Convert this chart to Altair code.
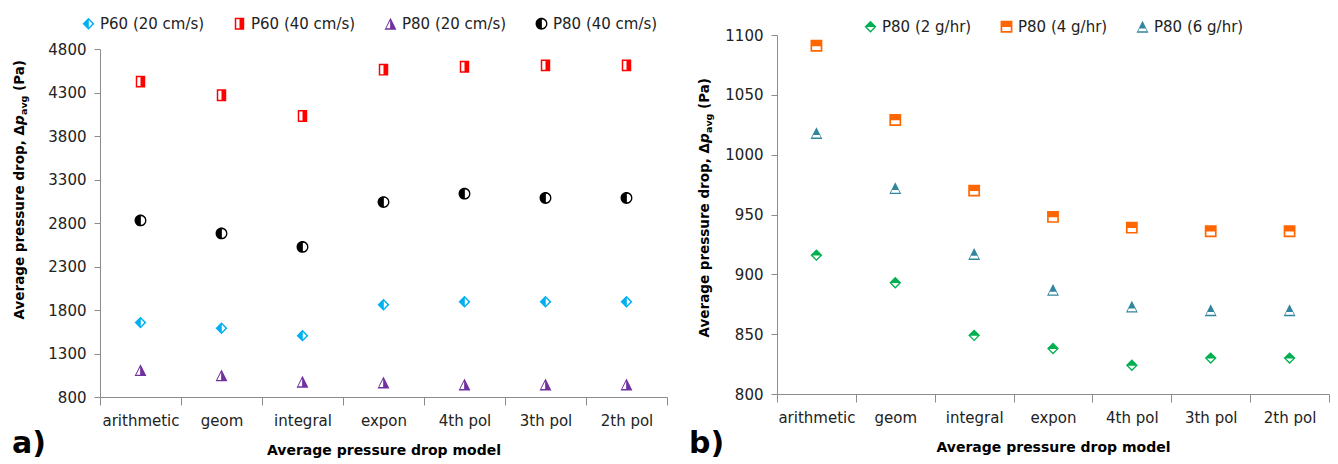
import altair as alt
import pandas as pd

FONT = "DejaVu Sans"

models = ["arithmetic", "geom", "integral", "expon", "4th pol", "3th pol", "2th pol"]

# panel a)
series_a = ["P60 (20 cm/s)", "P60 (40 cm/s)", "P80 (20 cm/s)", "P80 (40 cm/s)"]
p60_20 = [1655, 1590, 1505, 1860, 1895, 1895, 1895]
p60_40 = [4425, 4268, 4030, 4562, 4596, 4612, 4612]
p80_20 = [1108, 1048, 975, 967, 944, 944, 944]
p80_40 = [2830, 2680, 2525, 3040, 3137, 3087, 3087]
colors_a = ["#00B0F0", "#FF0000", "#7030A0", "#000000"]
yticks_a = [800, 1300, 1800, 2300, 2800, 3300, 3800, 4300, 4800]

# panel b)
series_b = ["P80 (2 g/hr)", "P80 (4 g/hr)", "P80 (6 g/hr)"]
p80_2 = [916, 893, 849, 838, 824, 830, 830]
p80_4 = [1091, 1029, 970, 948, 939, 936, 936]
p80_6 = [1018, 972, 917, 887, 873, 870, 870]
colors_b = ["#00B050", "#FF6600", "#31859C"]
yticks_b = [800, 850, 900, 950, 1000, 1050, 1100]

# half-filled marker shapes (outer outline with a reversed inner hole)
DIAMOND_L = "M0,-1L1,0L0,1L-1,0Z M0.05,-0.62L0.05,0.62L0.64,0Z"
SQUARE_L = "M-0.8,-1H0.8V1H-0.8Z M-0.55,-0.75V0.75H0V-0.75Z"
TRI_R = "M0,-1L1,1L-1,1Z M-0.06,-0.5L-0.72,0.76L-0.06,0.76Z"
CIRCLE_L = "M-1,0A1,1 0 1,1 1,0A1,1 0 1,1 -1,0Z M0.06,0.72A0.72,0.72 0 0,0 0.06,-0.72Z"
DIAMOND_T = "M0,-1L1,0L0,1L-1,0Z M-0.62,0.06L0,0.68L0.62,0.06Z"
SQUARE_T = "M-1,-1H1V1H-1Z M-0.72,0.06V0.72H0.72V0.06Z"
TRI_T = "M0,-1L1,1L-1,1Z M-0.52,0.3L-0.74,0.76L0.74,0.76L0.52,0.3Z"

shapes_a = [DIAMOND_L, SQUARE_L, TRI_R, CIRCLE_L]
shapes_b = [DIAMOND_T, SQUARE_T, TRI_T]


def long_df(series, values):
    rows = []
    for s, vals in zip(series, values):
        for m, v in zip(models, vals):
            rows.append({"model": m, "series": s, "value": v})
    return pd.DataFrame(rows)


df_a = long_df(series_a, [p60_20, p60_40, p80_20, p80_40])
df_b = long_df(series_b, [p80_2, p80_4, p80_6])


def text_layer(text, x, y, size, align, angle=270, style="normal", baseline="middle"):
    return alt.Chart(pd.DataFrame({"t": [text]})).mark_text(
        align=align, baseline=baseline, angle=angle, font=FONT, fontSize=size,
        fontWeight="bold", fontStyle=style, color="#000000"
    ).encode(text="t:N", x=alt.value(x), y=alt.value(y))


def panel(df, series, colors, shapes, yticks, w, h, yrange, leg_x, leg_y, ncol, colpad,
          title_x, anchor_y, letter, letter_y):
    leg = alt.Legend(
        title=None, orient="none", legendX=leg_x, legendY=leg_y,
        direction="horizontal", columns=ncol, columnPadding=colpad,
        labelFont=FONT, labelFontSize=15, labelColor="#222222",
        symbolSize=140, labelOffset=4, padding=0, symbolStrokeWidth=0,
    )
    pts = alt.Chart(df).mark_point(filled=True, size=140, opacity=1, strokeWidth=0).encode(
        x=alt.X("model:N", sort=models,
                scale=alt.Scale(type="band", domain=models, paddingInner=0, paddingOuter=0),
                axis=alt.Axis(title="Average pressure drop model", tickBand="extent",
                              labelAngle=0, tickSize=8, labelPadding=8, titlePadding=15)),
        y=alt.Y("value:Q",
                scale=alt.Scale(domain=[yticks[0], yticks[-1]], nice=False, zero=False,
                                range=yrange),
                axis=alt.Axis(values=yticks, title=None, tickSize=6, labelPadding=8, format="d")),
        color=alt.Color("series:N", scale=alt.Scale(domain=series, range=colors), legend=leg),
        shape=alt.Shape("series:N", scale=alt.Scale(domain=series, range=shapes), legend=leg),
    )
    t1 = text_layer("Average  pressure drop, \u0394", title_x, anchor_y, 13.5, "right")
    t2 = text_layer("p", title_x, anchor_y, 13.5, "left", style="italic")
    t3 = text_layer("avg", title_x + 4, anchor_y - 10, 9.5, "left")
    t4 = text_layer("(Pa)", title_x, anchor_y - 34, 13.5, "left")
    lt = text_layer(letter, -88, letter_y, 30, "left", angle=0, baseline="alphabetic")
    return alt.layer(pts, t1, t2, t3, t4, lt).properties(width=w, height=h)


left = panel(df_a, series_a, colors_a, shapes_a, yticks_a, 567, 362, [362, 14],
             -19, -19, 4, 27, -80, 90, "a)", 418)
right = panel(df_b, series_b, colors_b, shapes_b, yticks_b, 552, 359, [359, 0],
              86, -16, 3, 27, -72, 108, "b)", 418)

chart = alt.hconcat(left, right, spacing=21).resolve_scale(
    color="independent", shape="independent"
).properties(
    padding={"left": 4, "top": 8, "right": 0, "bottom": 0}
).configure_view(stroke=None).configure_axis(
    labelFont=FONT, labelFontSize=15, labelColor="#222222",
    titleFont=FONT, titleFontSize=14, titleFontWeight="bold", titleColor="#000000",
    domainColor="#8C8C8C", tickColor="#8C8C8C", grid=False,
)

chart.save("out.html", embed_options={"renderer": "svg", "actions": False})
